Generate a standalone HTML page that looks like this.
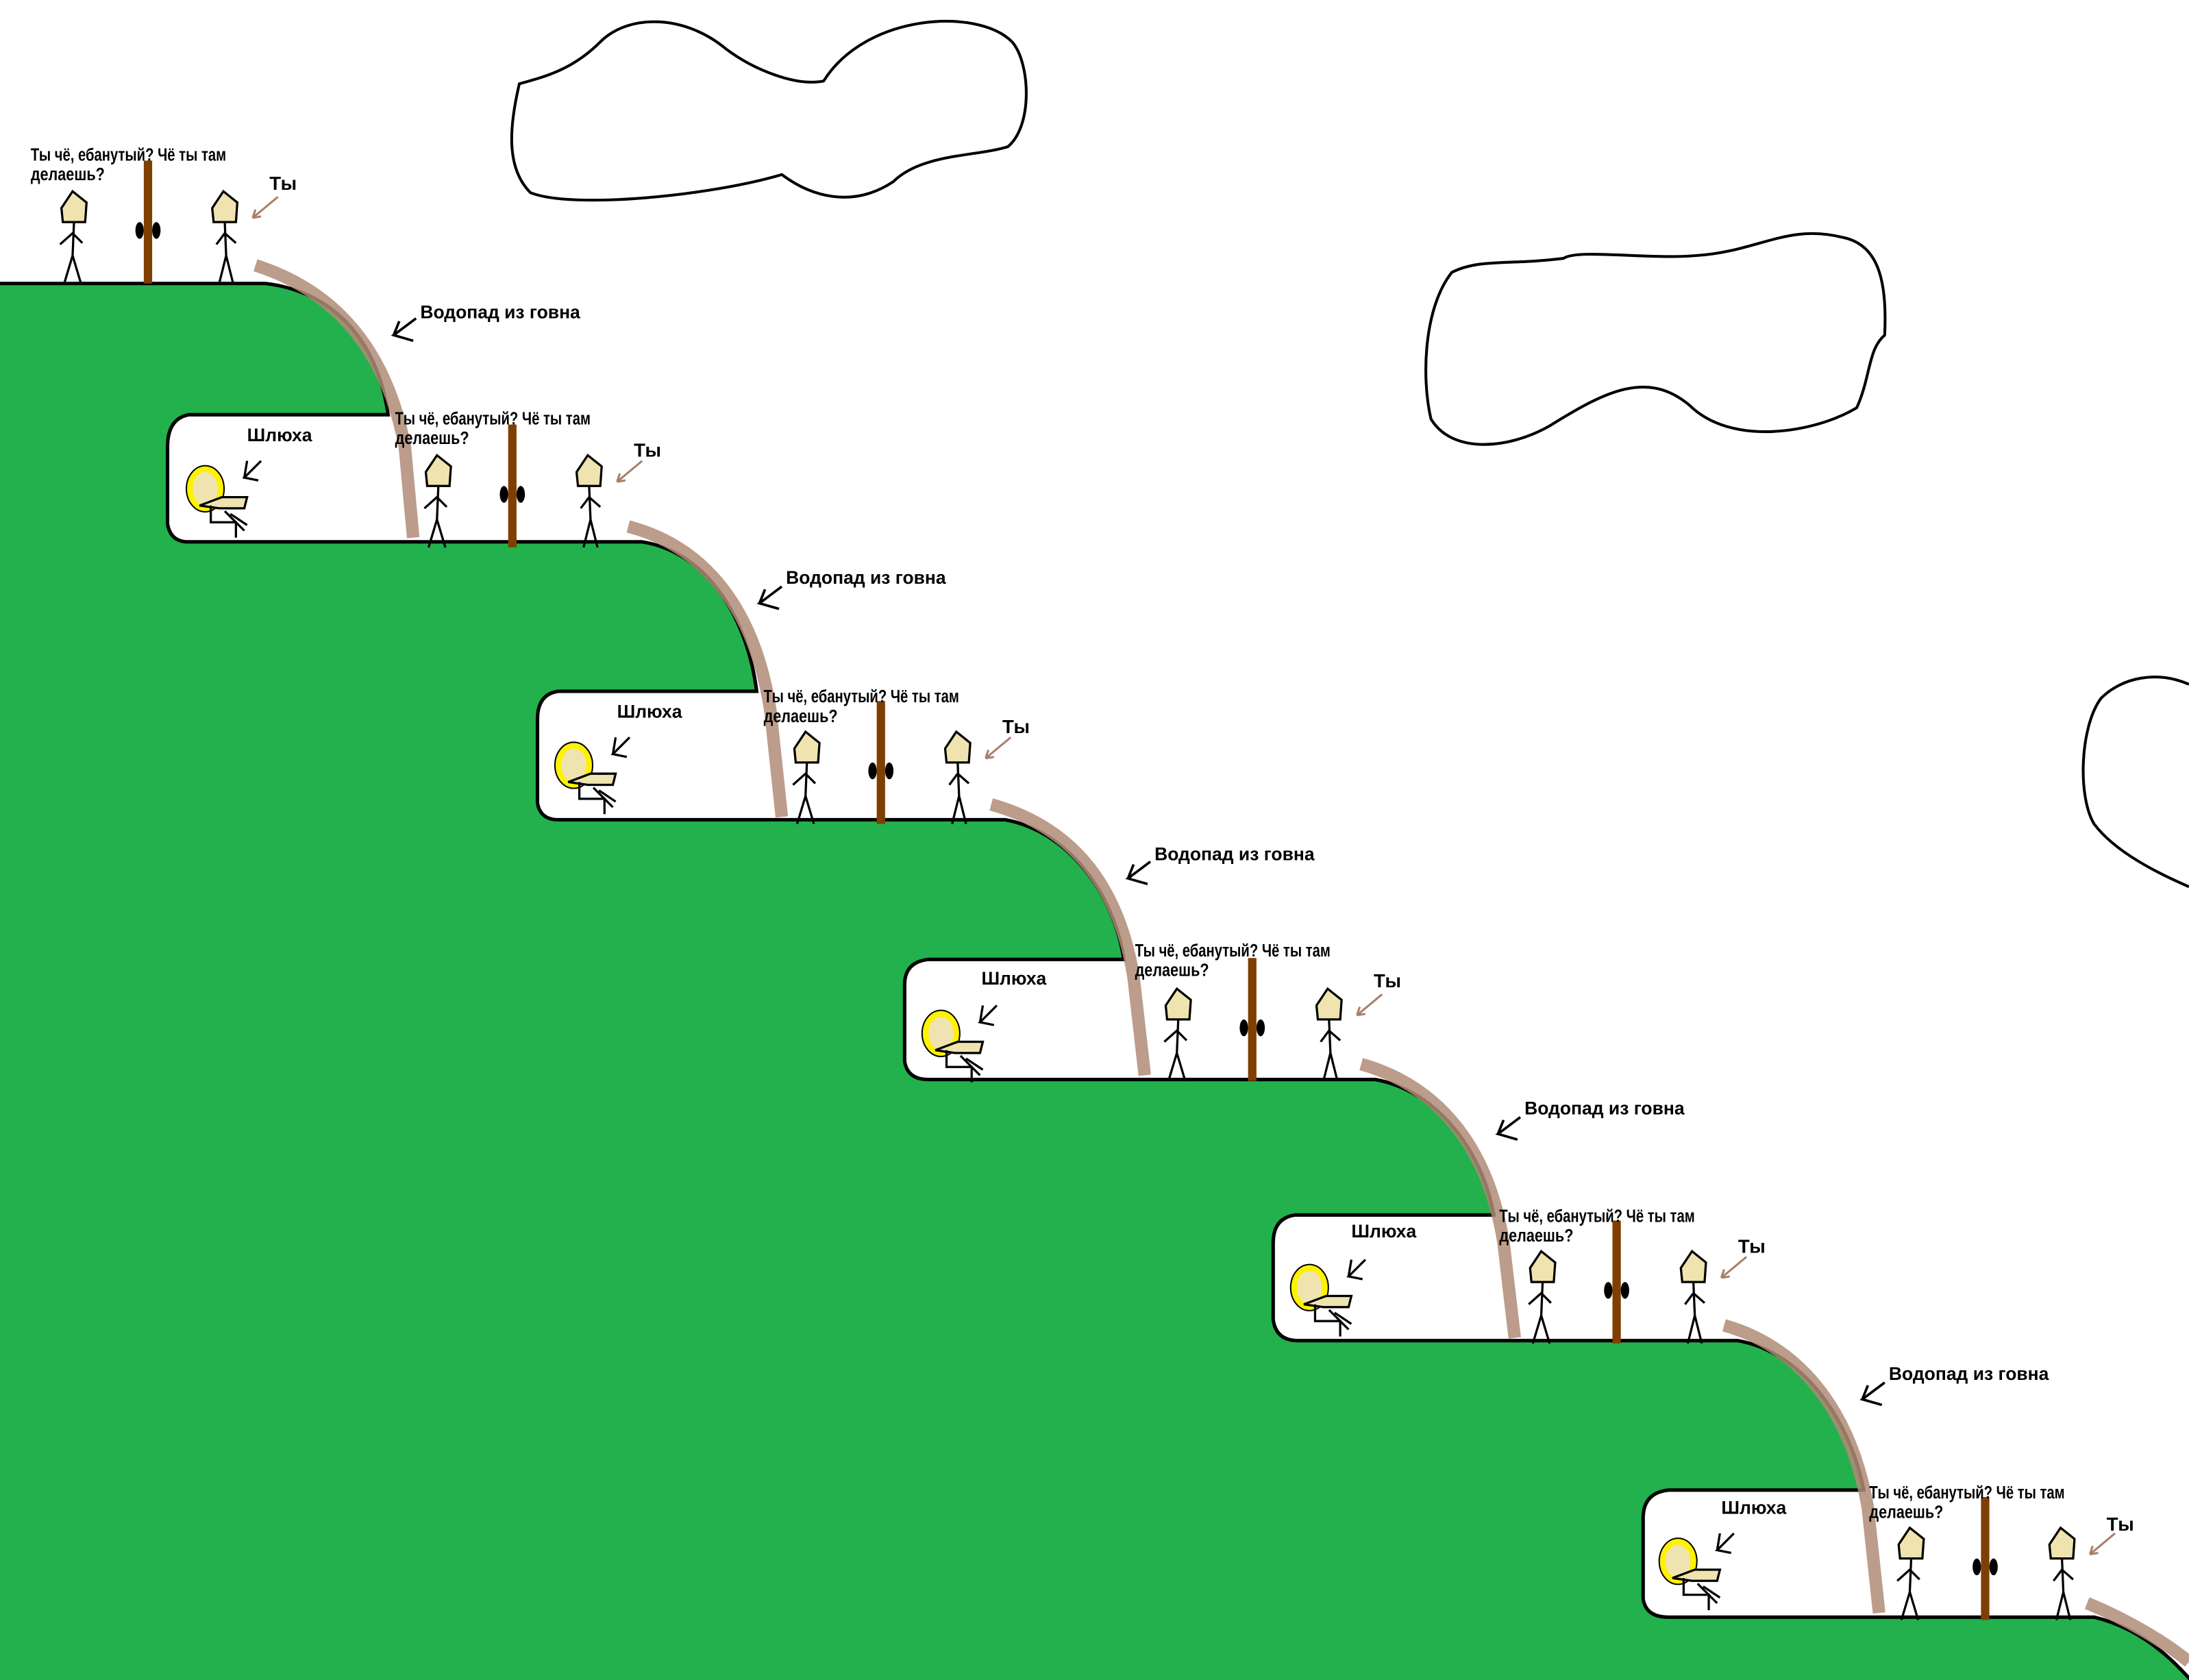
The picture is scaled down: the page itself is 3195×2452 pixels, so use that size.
<!DOCTYPE html>
<html><head><meta charset="utf-8"><style>
html,body{margin:0;padding:0;background:#fff}
svg{display:block}
text{font-family:"Liberation Sans Narrow","Liberation Sans",sans-serif;font-weight:bold;fill:#000}
</style></head><body>
<svg width="3195" height="2452" viewBox="0 0 1568 1203" preserveAspectRatio="none" xmlns="http://www.w3.org/2000/svg">
<defs>
<g id="unit">
  <rect x="-3" y="-88" width="6" height="88" fill="#7f3f00"/>
  <ellipse cx="-6" cy="-38" rx="3" ry="6" fill="#000"/>
  <ellipse cx="6" cy="-38" rx="3" ry="6" fill="#000"/>
  <g stroke="#000" stroke-width="1.6" fill="none">
    <polygon points="-61,-44 -62,-54 -54,-66 -44,-58 -45,-44" fill="#efe4b0"/>
    <path d="M-53,-44 L-54,-20 L-60,0 M-54,-20 L-48,0 M-63,-28 L-54,-36 L-47,-29"/>
    <polygon points="47,-44 46,-54 54,-66 64,-58 63,-44" fill="#efe4b0"/>
    <path d="M55,-44 L56,-20 L51,0 M56,-20 L61,0 M49,-28 L55,-36 L63,-29"/>
  </g>
  <path d="M93,-62 L75,-47 M75,-47 L77,-53 M75,-47 L81,-48" stroke="#a97f6a" stroke-width="1.5" fill="none"/>
</g>
<g id="girl" stroke="#000" stroke-width="1.6" fill="none">
  <ellipse cx="0" cy="0" rx="11" ry="14" fill="#efe4b0" stroke="#fff200" stroke-width="4"/>
  <ellipse cx="0" cy="0" rx="13.5" ry="16.5" stroke="#000" stroke-width="1"/>
  <path d="M-4,12 L12,6 L30,6 L28,14 L10,14 Z" fill="#efe4b0"/>
  <path d="M4,12 L4,24 L22,24 L22,35 M14,16 L28,30 M18,18 L30,26"/>
  <path d="M40,-20 L28,-8 L38,-6 M28,-8 L30,-20"/>
</g>
</defs>

<g stroke="#000" stroke-width="2" fill="none">
<path d="M372,60 C365,90 362,120 380,138 C410,150 510,140 560,125 C580,140 610,150 640,130 C660,110 700,112 722,105 C740,90 738,45 725,30 C700,5 620,10 590,58 C570,62 540,50 520,35 C490,10 450,10 430,30 C410,50 390,55 372,60 Z"/>
<path d="M1040,195 C1020,220 1018,270 1025,300 C1040,325 1080,322 1110,305 C1150,280 1180,265 1210,290 C1240,320 1300,310 1330,292 C1340,270 1338,250 1350,240 C1352,200 1345,175 1320,170 C1280,160 1260,180 1215,183 C1180,186 1130,178 1120,185 C1080,190 1060,185 1040,195 Z"/>
<path d="M1568,490 C1545,480 1520,485 1505,500 C1490,520 1488,570 1500,590 C1515,610 1545,625 1568,635"/>
</g>

<path d="M0,203 L190,203 C235,208 270,240 278,297 L135,297 Q120,300 120,320 L120,375 Q122,388 135,388 L460,388 C505,395 535,440 542,495 L400,495 Q385,497 385,515 L385,575 Q387,587 400,587 L720,587 C765,595 798,640 805,687 L665,687 Q648,689 648,705 L648,760 Q650,773 665,773 L985,773 C1030,781 1062,825 1070,870 L928,870 Q912,872 912,890 L912,945 Q914,960 930,960 L1245,960 C1290,968 1325,1015 1335,1067 L1195,1067 Q1177,1069 1177,1087 L1177,1145 Q1179,1158 1195,1158 L1500,1158 C1530,1165 1555,1185 1575,1210 L-5,1210 L-5,203 Z" fill="#22b14c" stroke="#000" stroke-width="2.5"/>

<g fill="none" stroke="#b08b75" stroke-width="9" opacity="0.85">
<path d="M183,190 C230,205 275,240 290,320 L296,385"/>
<path d="M450,377 C500,390 540,430 552,510 L560,585"/>
<path d="M710,576 C760,590 800,625 812,700 L820,770"/>
<path d="M975,762 C1025,776 1065,815 1077,890 L1085,958"/>
<path d="M1235,949 C1285,963 1325,1005 1338,1080 L1346,1155"/>
<path d="M1495,1148 C1520,1158 1550,1175 1568,1190"/>
</g>

<use href="#unit" x="106" y="203"/>
<use href="#unit" x="367" y="392"/>
<use href="#unit" x="631" y="590"/>
<use href="#unit" x="897" y="774"/>
<use href="#unit" x="1158" y="962"/>
<use href="#unit" x="1422" y="1160"/>

<use href="#girl" x="147" y="350"/>
<use href="#girl" x="411" y="548"/>
<use href="#girl" x="674" y="740"/>
<use href="#girl" x="938" y="922"/>
<use href="#girl" x="1202" y="1118"/>

<g font-size="12.5">
<text x="22" y="115" textLength="140" lengthAdjust="spacingAndGlyphs">Ты чё, ебанутый? Чё ты там</text><text x="22" y="129" textLength="53" lengthAdjust="spacingAndGlyphs">делаешь?</text>
<text x="283" y="304" textLength="140" lengthAdjust="spacingAndGlyphs">Ты чё, ебанутый? Чё ты там</text><text x="283" y="318" textLength="53" lengthAdjust="spacingAndGlyphs">делаешь?</text>
<text x="547" y="503" textLength="140" lengthAdjust="spacingAndGlyphs">Ты чё, ебанутый? Чё ты там</text><text x="547" y="517" textLength="53" lengthAdjust="spacingAndGlyphs">делаешь?</text>
<text x="813" y="685" textLength="140" lengthAdjust="spacingAndGlyphs">Ты чё, ебанутый? Чё ты там</text><text x="813" y="699" textLength="53" lengthAdjust="spacingAndGlyphs">делаешь?</text>
<text x="1074" y="875" textLength="140" lengthAdjust="spacingAndGlyphs">Ты чё, ебанутый? Чё ты там</text><text x="1074" y="889" textLength="53" lengthAdjust="spacingAndGlyphs">делаешь?</text>
<text x="1339" y="1073" textLength="140" lengthAdjust="spacingAndGlyphs">Ты чё, ебанутый? Чё ты там</text><text x="1339" y="1087" textLength="53" lengthAdjust="spacingAndGlyphs">делаешь?</text>
</g>
<g font-size="13.5">
<text x="193" y="136">Ты</text>
<text x="454" y="327">Ты</text>
<text x="718" y="525">Ты</text>
<text x="984" y="707">Ты</text>
<text x="1245" y="897">Ты</text>
<text x="1509" y="1096">Ты</text>
</g>
<g font-size="13" style="font-family:'Liberation Sans',sans-serif">
<text x="301" y="228">Водопад из говна</text>
<text x="563" y="418">Водопад из говна</text>
<text x="827" y="616">Водопад из говна</text>
<text x="1092" y="798">Водопад из говна</text>
<text x="1353" y="988">Водопад из говна</text>
<text x="177" y="316">Шлюха</text>
<text x="442" y="514">Шлюха</text>
<text x="703" y="705">Шлюха</text>
<text x="968" y="886">Шлюха</text>
<text x="1233" y="1084">Шлюха</text>
</g>
<g stroke="#000" stroke-width="1.8" fill="none">
<path d="M298,228 L282,240 L296,244 M282,240 L286,230"/>
<path d="M560,420 L544,432 L558,436 M544,432 L548,422"/>
<path d="M824,617 L808,629 L822,633 M808,629 L812,619"/>
<path d="M1089,800 L1073,812 L1087,816 M1073,812 L1077,802"/>
<path d="M1350,990 L1334,1002 L1348,1006 M1334,1002 L1338,992"/>
</g>
</svg>
</body></html>
